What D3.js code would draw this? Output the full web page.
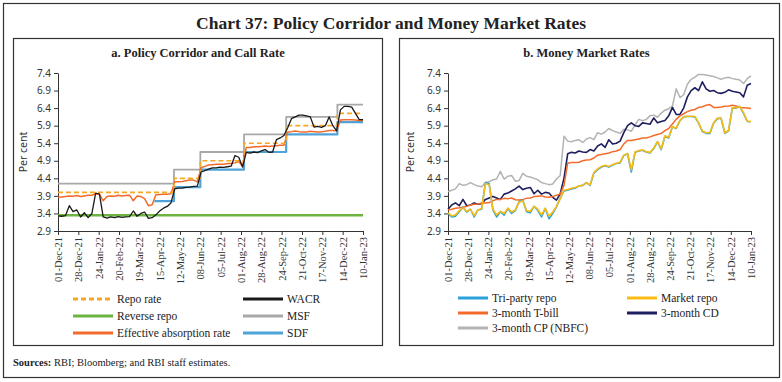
<!DOCTYPE html>
<html><head><meta charset="utf-8">
<script src="https://cdn.jsdelivr.net/npm/d3@7"></script>
<style>
body{margin:0;background:#fff;}
svg{display:block;}
</style></head>
<body>
<svg id="c" width="782" height="382"></svg>
<script>
// ---------- DATA ----------
const dates = ["2021-12-01","2021-12-06","2021-12-11","2021-12-16","2021-12-21","2021-12-26","2021-12-31",
"2022-01-05","2022-01-10","2022-01-15","2022-01-20","2022-01-25","2022-01-30",
"2022-02-04","2022-02-09","2022-02-14","2022-02-19","2022-02-24",
"2022-03-01","2022-03-06","2022-03-11","2022-03-16","2022-03-21","2022-03-26","2022-03-31",
"2022-04-05","2022-04-10","2022-04-15","2022-04-20","2022-04-25","2022-04-30",
"2022-05-05","2022-05-10","2022-05-15","2022-05-20","2022-05-25","2022-05-30",
"2022-06-04","2022-06-09","2022-06-14","2022-06-19","2022-06-24","2022-06-29",
"2022-07-04","2022-07-09","2022-07-14","2022-07-19","2022-07-24","2022-07-29",
"2022-08-03","2022-08-08","2022-08-13","2022-08-18","2022-08-23","2022-08-28",
"2022-09-02","2022-09-07","2022-09-12","2022-09-17","2022-09-22","2022-09-27",
"2022-10-02","2022-10-07","2022-10-12","2022-10-17","2022-10-22","2022-10-27",
"2022-11-01","2022-11-06","2022-11-11","2022-11-16","2022-11-21","2022-11-26",
"2022-12-01","2022-12-06","2022-12-11","2022-12-16","2022-12-21","2022-12-26","2022-12-31",
"2023-01-05","2023-01-10"];

const tickDates = ["2021-12-01","2021-12-28","2022-01-24","2022-02-20","2022-03-19","2022-04-15","2022-05-12",
"2022-06-08","2022-07-05","2022-08-01","2022-08-28","2022-09-24","2022-10-21","2022-11-17","2022-12-14","2023-01-10"];
const yTicks = [2.9,3.4,3.9,4.4,4.9,5.4,5.9,6.4,6.9,7.4];

// policy corridor (step changes)
const policyDates = ["2021-12-01","2022-04-08","2022-05-04","2022-06-08","2022-08-05","2022-09-30","2022-12-07","2023-01-10"];
const repoRate    = [4.00,4.00,4.40,4.90,5.40,5.90,6.25,6.25];
const reverseRepo = [3.35,3.35,3.35,3.35,3.35,3.35,3.35,3.35];
const msfRate     = [4.25,4.25,4.65,5.15,5.65,6.15,6.50,6.50];
const sdfRate     = [null,3.75,4.15,4.65,5.15,5.65,6.00,6.00];

const wacr = [3.33,3.32,3.34,3.62,3.45,3.50,3.30,3.42,3.28,3.40,
3.98,3.95,3.30,3.27,3.30,3.28,3.31,3.29,3.30,3.31,
3.47,3.32,3.40,3.44,3.26,3.28,3.36,3.47,3.55,3.60,
3.70,4.10,4.12,4.12,4.14,4.15,4.17,4.18,4.58,4.62,
4.66,4.70,4.70,4.72,4.71,4.73,4.75,5.05,5.00,4.72,
5.14,5.12,5.15,5.13,5.18,5.22,5.14,5.15,5.50,5.55,
5.62,5.84,6.10,6.15,6.20,6.20,6.18,6.15,5.86,5.88,
5.85,5.90,6.15,5.90,5.75,6.35,6.45,6.45,6.43,6.25,
6.07,6.07];

const effAbsorption = [3.86,3.87,3.88,3.90,3.89,3.91,3.88,3.90,3.92,3.92,
3.96,3.95,3.76,3.88,3.90,3.89,3.92,3.90,3.91,3.92,
3.76,3.90,3.88,3.82,3.62,3.65,3.93,3.94,3.95,3.95,
3.96,4.30,4.30,4.31,4.33,4.35,4.35,4.30,4.70,4.74,
4.78,4.79,4.80,4.80,4.80,4.82,4.82,4.84,4.88,4.74,
5.28,5.28,5.30,5.30,5.31,5.32,5.31,5.32,5.33,5.34,
5.34,5.72,5.73,5.75,5.73,5.72,5.72,5.74,5.73,5.72,
5.73,5.74,5.76,5.76,5.75,6.06,6.07,6.07,6.07,6.06,
6.05,6.05];

const triParty = [3.40,3.30,3.32,3.45,3.58,3.44,3.52,3.30,3.50,3.52,
4.28,4.25,3.50,3.30,3.45,3.35,3.54,3.40,3.48,3.74,
3.78,3.45,3.42,3.60,3.49,3.30,3.54,3.25,3.40,3.59,
3.83,4.04,4.06,4.10,4.12,4.18,4.20,4.28,4.20,4.55,
4.65,4.72,4.76,4.72,4.78,4.82,4.84,5.05,5.10,4.58,
5.14,5.18,5.20,5.15,5.12,5.25,5.44,5.22,5.60,5.55,
5.87,5.82,6.04,6.15,6.16,6.16,6.15,5.97,5.73,5.68,
5.68,5.97,6.10,6.11,5.68,5.75,6.40,6.40,6.44,6.25,
6.02,6.01];

const marketRepo = [3.42,3.33,3.36,3.48,3.56,3.46,3.52,3.34,3.50,3.54,
4.25,4.22,3.52,3.36,3.46,3.40,3.55,3.44,3.50,3.72,
3.76,3.48,3.46,3.60,3.52,3.36,3.55,3.32,3.44,3.60,
3.82,4.06,4.08,4.12,4.14,4.18,4.20,4.27,4.22,4.57,
4.67,4.74,4.77,4.74,4.79,4.83,4.86,5.06,5.11,4.64,
5.15,5.19,5.21,5.16,5.14,5.26,5.45,5.24,5.61,5.57,
5.87,5.83,6.05,6.15,6.17,6.17,6.16,5.98,5.75,5.70,
5.70,5.98,6.11,6.12,5.70,5.77,6.41,6.41,6.45,6.27,
6.03,6.02];

const tBill3m = [3.50,3.52,3.55,3.56,3.58,3.60,3.64,3.66,3.67,3.70,
3.70,3.71,3.76,3.80,3.80,3.83,3.82,3.84,3.79,3.78,
3.80,3.83,3.84,3.88,3.89,3.90,3.87,3.86,3.88,3.92,
3.95,4.20,4.83,4.85,4.85,4.86,4.90,4.92,4.93,4.98,
5.06,5.08,5.10,5.12,5.16,5.18,5.22,5.38,5.48,5.48,
5.50,5.52,5.55,5.55,5.58,5.62,5.65,5.68,5.76,5.82,
5.95,6.08,6.18,6.24,6.30,6.34,6.36,6.42,6.44,6.48,
6.50,6.42,6.42,6.43,6.45,6.46,6.48,6.46,6.42,6.41,
6.40,6.39];

const cd3m = [3.52,3.64,3.70,3.62,3.80,3.62,3.64,3.70,3.66,3.68,
3.80,3.84,3.88,3.84,3.80,3.95,3.98,4.04,4.10,4.18,
4.08,4.12,4.14,3.96,4.06,3.95,4.00,3.98,3.86,3.78,
3.96,4.40,5.10,5.14,5.12,5.18,5.15,5.14,5.22,5.18,
5.32,5.38,5.28,5.50,5.38,5.40,5.46,5.70,5.90,5.98,
5.90,5.88,5.98,5.96,5.94,6.12,5.98,6.02,6.05,6.18,
6.42,6.22,6.22,6.40,6.72,6.90,6.98,6.90,7.15,6.95,
6.88,6.90,6.84,6.82,6.85,6.92,6.88,6.86,6.84,6.72,
7.05,7.10];

const cp3m = [4.02,4.06,4.10,4.25,4.20,4.22,4.28,4.22,4.18,4.16,
4.28,4.30,4.36,4.38,4.60,4.38,4.46,4.48,4.32,4.34,
4.54,4.46,4.44,4.40,4.36,4.28,4.25,4.22,4.24,4.38,
4.48,5.60,5.46,5.44,5.48,5.50,5.42,5.52,5.56,5.50,
5.70,5.66,5.72,5.82,5.76,5.72,5.68,5.80,5.78,5.74,
5.92,6.08,6.04,6.08,6.18,6.20,6.14,6.26,6.34,6.38,
6.46,6.95,6.70,6.78,7.08,7.22,7.28,7.36,7.36,7.34,
7.32,7.30,7.26,7.22,7.26,7.28,7.24,7.22,7.20,7.10,
7.24,7.32];

const leftLegend = ["Repo rate","WACR","Reverse repo","MSF","Effective absorption rate","SDF"];
const rightLegend = ["Tri-party repo","Market repo","3-month T-bill","3-month CD","3-month CP (NBFC)"];

// ---------- DRAW ----------
const parse = d3.timeParse("%Y-%m-%d");
const fmt = d3.timeFormat("%d-%b-%y");
const SERIF = "'Liberation Serif', 'DejaVu Serif', serif";
const SANS = "'Noto Sans', 'Open Sans', sans-serif";
const svg = d3.select("#c");

svg.append("rect").attr("x",3.5).attr("y",3.5).attr("width",776).attr("height",374)
  .attr("fill","none").attr("stroke","#333").attr("stroke-width",1.2);
svg.append("text").attr("x",391).attr("y",29).attr("text-anchor","middle")
  .attr("font-family",SERIF).attr("font-weight","bold").attr("font-size",17.5).attr("fill","#222")
  .text("Chart 37: Policy Corridor and Money Market Rates");

const panels = [
  {bx:13.5, bw:369, title:"a. Policy Corridor and Call Rate", x0:58, x1:363, lab:27},
  {bx:399.5, bw:374, title:"b. Money Market Rates", x0:448, x1:751, lab:414}
];
const yTop = 73, yBot = 231;

panels.forEach(p=>{
  svg.append("rect").attr("x",p.bx).attr("y",38.5).attr("width",p.bw).attr("height",307)
    .attr("fill","none").attr("stroke","#333").attr("stroke-width",1.2);
  svg.append("text").attr("x",p.bx+p.bw/2).attr("y",56.5).attr("text-anchor","middle")
    .attr("font-family",SERIF).attr("font-weight","bold").attr("font-size",12.5).attr("fill","#222")
    .text(p.title);
  p.x = d3.scaleTime().domain([parse(tickDates[0]), parse(tickDates[tickDates.length-1])]).range([p.x0,p.x1]);
  p.y = d3.scaleLinear().domain([2.9,7.4]).range([yBot,yTop]);
  const ya = svg.append("g").attr("transform",`translate(${p.x0},0)`)
    .call(d3.axisLeft(p.y).tickValues(yTicks).tickFormat(d3.format(".1f")).tickSize(4).tickSizeOuter(0));
  ya.selectAll("text").attr("font-family",SANS).attr("font-size",10).attr("fill","#333");
  const xa = svg.append("g").attr("transform",`translate(0,${yBot})`)
    .call(d3.axisBottom(p.x).tickValues(tickDates.map(parse)).tickFormat(fmt).tickSize(4).tickSizeOuter(0));
  xa.selectAll("text").attr("font-family",SERIF).attr("font-size",10.5).attr("fill","#333")
    .attr("transform","rotate(-90)").attr("text-anchor","end").attr("x",-6).attr("y",0).attr("dy","0.32em");
  [ya,xa].forEach(a=>{a.select(".domain").attr("stroke","#333"); a.selectAll(".tick line").attr("stroke","#333");});
  svg.append("text").attr("transform",`translate(${p.lab},152) rotate(-90)`).attr("text-anchor","middle")
    .attr("font-family",SANS).attr("font-size",10.5).attr("fill","#333").text("Per cent");
});

const dts = dates.map(parse);
const pds = policyDates.map(parse);
function drawLine(p, xs, vals, color, w, opts={}){
  const gen = d3.line().defined((d,i)=>vals[i]!=null)
    .x((d,i)=>p.x(xs[i])).y((d,i)=>p.y(vals[i]))
    .curve(opts.step ? d3.curveStepAfter : d3.curveLinear);
  svg.append("path").datum(vals).attr("d",gen).attr("fill","none").attr("stroke",color)
    .attr("stroke-width",w).attr("stroke-linejoin","round").attr("stroke-dasharray",opts.dash||null);
}
const L = panels[0], R = panels[1];
const C = {repo:"#F7A823", wacr:"#1a1a1a", rr:"#6DB33F", msf:"#A8A8A8", eff:"#F26B2A", sdf:"#4FA3D8",
  tp:"#2BA3DA", mr:"#F9BC15", tb:"#F26B2A", cd:"#1D1F5E", cp:"#B3B3B3"};

drawLine(L, pds, reverseRepo, C.rr, 2.6, {step:true});
drawLine(L, pds, msfRate, C.msf, 1.8, {step:true});
drawLine(L, pds, sdfRate, C.sdf, 2.2, {step:true});
drawLine(L, dts, effAbsorption, C.eff, 1.5);
drawLine(L, pds, repoRate, C.repo, 1.6, {step:true, dash:"5,3"});
drawLine(L, dts, wacr, C.wacr, 1.3);

drawLine(R, dts, cp3m, C.cp, 1.5);
drawLine(R, dts, cd3m, C.cd, 1.6);
drawLine(R, dts, tBill3m, C.tb, 1.5);
drawLine(R, dts, triParty, C.tp, 1.6);
drawLine(R, dts, marketRepo, C.mr, 1.6);

// legends
function legend(items, colors, dashes, cols, rows, lineLen){
  items.forEach((name,i)=>{
    const cx = cols[i%2], cy = rows[Math.floor(i/2)];
    svg.append("line").attr("x1",cx).attr("x2",cx+lineLen).attr("y1",cy).attr("y2",cy)
      .attr("stroke",colors[i]).attr("stroke-width",3).attr("stroke-dasharray",dashes[i]||null);
    svg.append("text").attr("x",cx+lineLen+4).attr("y",cy).attr("dy","0.33em")
      .attr("font-family",SERIF).attr("font-size",11.5).attr("fill","#222").text(name);
  });
}
legend(leftLegend, [C.repo,C.wacr,C.rr,C.msf,C.eff,C.sdf], ["5,3"], [73,243], [299,316,333], 40);
legend(rightLegend, [C.tp,C.mr,C.tb,C.cd,C.cp], [], [458,627], [298,313,328], 30);

const src = svg.append("text").attr("x",13).attr("y",366).attr("font-family",SERIF).attr("font-size",10.5).attr("fill","#222");
src.append("tspan").attr("font-weight","bold").text("Sources:");
src.append("tspan").text(" RBI; Bloomberg; and RBI staff estimates.");
</script>
</body></html>
